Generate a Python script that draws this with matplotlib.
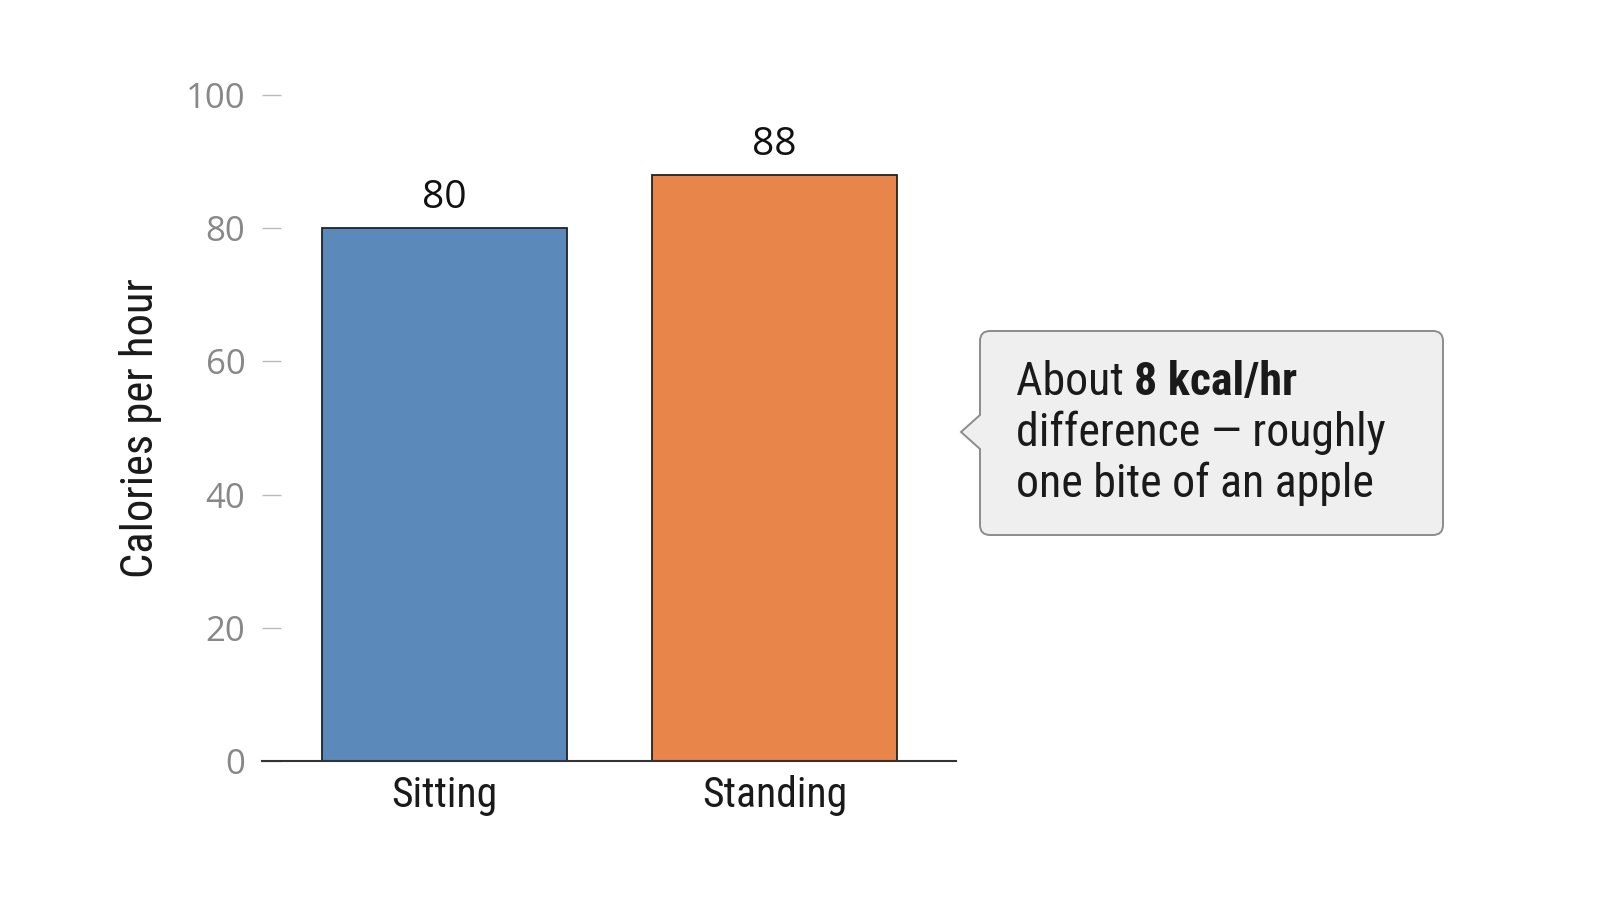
import matplotlib
matplotlib.use("Agg")
import matplotlib.pyplot as plt
from matplotlib import font_manager
from matplotlib.path import Path
from matplotlib.patches import PathPatch
from matplotlib.transforms import Affine2D

# data
categories = ["Sitting", "Standing"]
calories = [80, 88]
bar_colors = ["#5b8aba", "#e8854b"]
y_ticks = [0, 20, 40, 60, 80, 100]
note_plain = "About "
note_bold = "8 kcal/hr"
note_lines = ["difference \u2014 roughly", "one bite of an apple"]

# pick a condensed face if one is around
names = {f.name for f in font_manager.fontManager.ttflist}
narrow = "Roboto"
for cand in ["Roboto Condensed", "Liberation Sans Narrow", "Open Sans Condensed", "DejaVu Sans Condensed"]:
    if cand in names:
        narrow = cand
        break

W, H = 1600, 900
fig = plt.figure(figsize=(16, 9), dpi=100)
fig.patch.set_facecolor("white")
ax = fig.add_axes([262 / W, 1 - 761 / H, (956 - 262) / W, (761 - 95) / H])

x = list(range(len(categories)))
bars = ax.bar(x, calories, width=0.742, color=bar_colors, edgecolor="#222222", linewidth=1.3, zorder=2)

ax.set_xlim(-0.553, 1.55)
ax.set_ylim(0, 100)
ax.set_yticks(y_ticks)
ax.set_xticks(x)
ax.set_xticklabels(categories, family=narrow, fontsize=30, color="#1a1a1a")
for lab in ax.get_yticklabels():
    lab.set_family("Open Sans")
ax.tick_params(axis="y", direction="in", length=14, width=1, color="#bbbbbb",
               labelsize=25, labelcolor="#888888", pad=12)
ax.tick_params(axis="x", length=0, pad=10)

for s in ["top", "right", "left"]:
    ax.spines[s].set_visible(False)
ax.spines["bottom"].set_color("#333333")
ax.spines["bottom"].set_linewidth(1.5)

ax.set_ylabel("Calories per hour", family=narrow, fontsize=32, color="#1a1a1a", labelpad=17)

for b, v in zip(bars, calories):
    ax.annotate(str(v), (b.get_x() + b.get_width() / 2, v), xytext=(0, 8), textcoords="offset points",
                ha="center", va="bottom", fontsize=28, family="Open Sans", color="#111111")

# callout box with a pointer on the left, built in pixel coords (top-left origin)
x0, y0, x1, y1, r = 980, 331, 1443, 535, 10
tip_x, tip_y, half = 961, 432, 17
verts = [
    (x0 + r, y0), (x1 - r, y0), (x1, y0), (x1, y0 + r),
    (x1, y1 - r), (x1, y1), (x1 - r, y1),
    (x0 + r, y1), (x0, y1), (x0, y1 - r),
    (x0, tip_y + half), (tip_x, tip_y), (x0, tip_y - half),
    (x0, y0 + r), (x0, y0), (x0 + r, y0), (x0 + r, y0),
]
codes = [Path.MOVETO, Path.LINETO, Path.CURVE3, Path.CURVE3,
         Path.LINETO, Path.CURVE3, Path.CURVE3,
         Path.LINETO, Path.CURVE3, Path.CURVE3,
         Path.LINETO, Path.LINETO, Path.LINETO,
         Path.LINETO, Path.CURVE3, Path.CURVE3, Path.CLOSEPOLY]
px = Affine2D().scale(1 / W, -1 / H).translate(0, 1) + fig.transFigure
fig.patches.append(PathPatch(Path(verts, codes), transform=px, facecolor="#efefef",
                             edgecolor="#8c8c8c", linewidth=1.4))

tx, base1 = 1016 / W, 1 - 395 / H
t1 = fig.text(tx, base1, note_plain, family=narrow, fontsize=33, color="#1a1a1a", va="baseline")
fig.canvas.draw()
bb = t1.get_window_extent()
fig.text(bb.x1 / W, base1, note_bold, family=narrow, fontsize=33, weight="bold", color="#1a1a1a", va="baseline")
for i, line in enumerate(note_lines):
    fig.text(tx, base1 - 51 * (i + 1) / H, line, family=narrow, fontsize=33, color="#1a1a1a", va="baseline")

fig.savefig("out.png", dpi=100, facecolor="white")
